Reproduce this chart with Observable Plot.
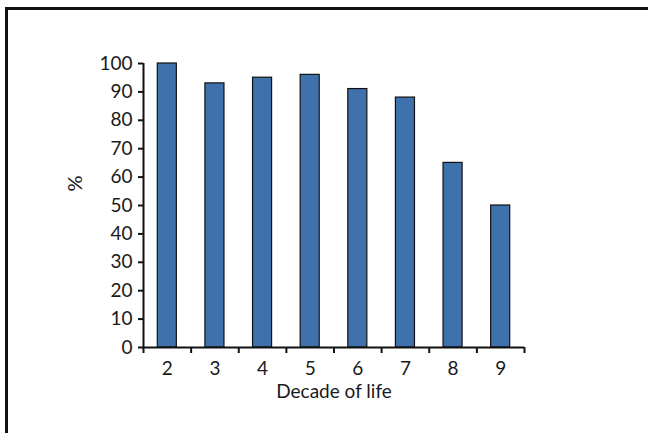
<!DOCTYPE html>
<html>
<head>
<meta charset="utf-8">
<script src="https://cdn.jsdelivr.net/npm/d3@7"></script>
<script src="https://cdn.jsdelivr.net/npm/@observablehq/plot@0.6"></script>
<style>
  html, body { margin: 0; padding: 0; background: #fff; overflow: hidden; }
  #wrap { position: relative; width: 648px; height: 433px; }
  #border { position: absolute; left: 5px; top: 7px; width: 700px; height: 500px;
            border: 3px solid #111; box-sizing: border-box; pointer-events: none; }
</style>
</head>
<body>
<div id="wrap"><div id="border"></div></div>
<script>
const decades = [2, 3, 4, 5, 6, 7, 8, 9];
const percents = [100, 93, 95, 96, 91, 88, 65, 50];
const yTicks = [0, 10, 20, 30, 40, 50, 60, 70, 80, 90, 100];
const xLabel = "Decade of life";
const yLabel = "%";

const data = decades.map((d, i) => ({decade: d, value: percents[i]}));
const boundaries = decades.map(d => d - 0.5).concat([decades[decades.length - 1] + 0.5]);
const xDomain = [boundaries[0], boundaries[boundaries.length - 1]];

const chart = Plot.plot({
  width: 648,
  height: 433,
  marginLeft: 143,
  marginRight: 124,
  marginTop: 63,
  marginBottom: 86,
  style: {fontFamily: "Lato, sans-serif", fontSize: "19px", fontWeight: 400, color: "#1a1a1a", background: "transparent"},
  x: {domain: xDomain},
  y: {domain: [0, 100]},
  marks: [
    Plot.rectY(data, {x1: d => d.decade - 0.2, x2: d => d.decade + 0.2, y: "value",
      fill: "#3f71ac", stroke: "#111", strokeWidth: 1.2}),
    Plot.ruleY([0], {stroke: "#111", strokeWidth: 2}),
    Plot.ruleX([xDomain[0]], {stroke: "#111", strokeWidth: 2}),
    Plot.axisY({ticks: yTicks, tickSize: 5, tickPadding: 6, strokeWidth: 2, label: null, stroke: "#111"}),
    Plot.axisX({ticks: boundaries, tickSize: 6, tickFormat: () => "", strokeWidth: 2, label: null, stroke: "#111"}),
    Plot.axisX({ticks: decades, tickSize: 0, tickPadding: 14, tickFormat: d => String(d), label: null}),
    Plot.text([yLabel], {frameAnchor: "left", dx: -68, dy: -14, rotate: -90, fontSize: 20, fill: "#1a1a1a"}),
    Plot.text([xLabel], {frameAnchor: "bottom", dy: 50, fontSize: 19, fill: "#1a1a1a"})
  ]
});
chart.style.position = "absolute";
chart.style.left = "0px";
chart.style.top = "0px";
document.getElementById("wrap").appendChild(chart);
</script>
</body>
</html>
